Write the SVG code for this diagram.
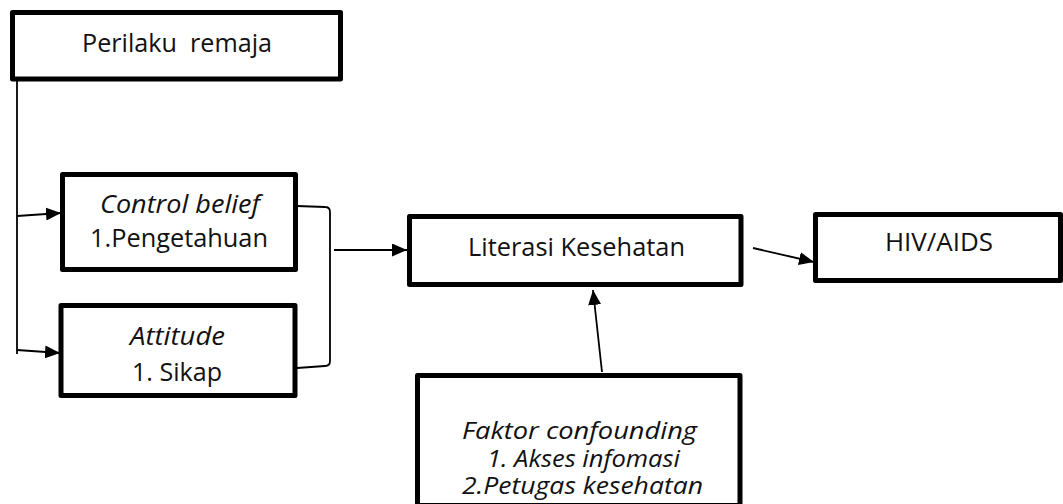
<svg xmlns="http://www.w3.org/2000/svg" width="1063" height="504" viewBox="0 0 1063 504">
<style>
.box{fill:#fff;stroke:#000;stroke-width:5;stroke-linejoin:round}
.t{font-family:"Open Sans","Liberation Sans",sans-serif;font-size:26px;fill:#111;white-space:pre}
.i{font-style:italic}
.s{font-size:24px}
.c{fill:none;stroke:#000;stroke-width:1.8}
</style>
<defs>
<marker id="ah" viewBox="0 0 15 13" refX="15" refY="6.5" markerWidth="15" markerHeight="13" markerUnits="userSpaceOnUse" orient="auto">
<path d="M0,0 L15,6.5 L0,13 z" fill="#000"/>
</marker>
</defs>
<rect width="1063" height="504" fill="#fff"/>
<g id="connectors">
<line class="c" x1="17" y1="81" x2="17" y2="354"/>
<line class="c" x1="17" y1="216" x2="61" y2="213" marker-end="url(#ah)"/>
<line class="c" x1="17" y1="350" x2="60" y2="353" marker-end="url(#ah)"/>
<path class="c" d="M297,206 L325,207 Q330,207 330,212 L330,361 Q330,366 325,366 L297,368"/>
<line class="c" x1="334" y1="250" x2="407" y2="250" marker-end="url(#ah)"/>
<line class="c" x1="753" y1="248" x2="814" y2="262" marker-end="url(#ah)"/>
<line class="c" x1="602" y1="372" x2="593" y2="290" marker-end="url(#ah)"/>
</g>
<g id="perilaku">
<rect class="box" x="12.5" y="12.5" width="328" height="66.5"/>
<text class="t" x="82" y="52" textLength="190" lengthAdjust="spacingAndGlyphs">Perilaku  remaja</text>
</g>
<g id="control-belief">
<rect class="box" x="62.5" y="174.5" width="233" height="95"/>
<text class="t i" x="100" y="213" textLength="160" lengthAdjust="spacingAndGlyphs">Control belief</text>
<text class="t" x="90" y="247" textLength="178" lengthAdjust="spacingAndGlyphs">1.Pengetahuan</text>
</g>
<g id="attitude">
<rect class="box" x="61" y="305.5" width="234" height="90"/>
<text class="t i" x="130" y="345" textLength="95" lengthAdjust="spacingAndGlyphs">Attitude</text>
<text class="t" x="132" y="381" textLength="90" lengthAdjust="spacingAndGlyphs">1. Sikap</text>
</g>
<g id="literasi">
<rect class="box" x="409.5" y="216.5" width="331.5" height="68"/>
<text class="t" x="468" y="256" textLength="217" lengthAdjust="spacingAndGlyphs">Literasi Kesehatan</text>
</g>
<g id="hiv">
<rect class="box" x="815.5" y="214.5" width="245" height="66"/>
<text class="t" x="885" y="251" textLength="108" lengthAdjust="spacingAndGlyphs">HIV/AIDS</text>
</g>
<g id="confounding">
<rect class="box" x="417.5" y="375.5" width="322.5" height="130"/>
<text class="t i s" x="462" y="439" textLength="235" lengthAdjust="spacingAndGlyphs">Faktor confounding</text>
<text class="t i s" x="487" y="467" textLength="193" lengthAdjust="spacingAndGlyphs">1. Akses infomasi</text>
<text class="t i s" x="462" y="494" textLength="241" lengthAdjust="spacingAndGlyphs">2.Petugas kesehatan</text>
</g>
</svg>
